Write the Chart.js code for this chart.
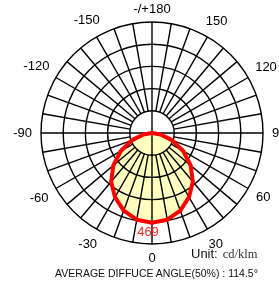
<!DOCTYPE html>
<html>
<head>
<meta charset="utf-8">
<script src="https://cdn.jsdelivr.net/npm/chart.js@4.4.1/dist/chart.umd.min.js"></script>
<style>
  html,body{margin:0;padding:0;background:#fff;}
  #wrap{position:relative;width:279px;height:285px;overflow:hidden;}
  #polar{position:absolute;left:0;top:0;}
  .unit{position:absolute;left:191px;top:246px;line-height:15px;font-size:13px;font-family:Arial,"Liberation Sans",sans-serif;color:#111;white-space:nowrap;}
  .unit span{font-size:12.5px;font-family:"Times New Roman","Liberation Serif",serif;color:#333;margin-left:5px;}
  .foot{position:absolute;left:0;top:267px;width:313px;text-align:center;line-height:12px;font-size:10.5px;font-family:Arial,"Liberation Sans",sans-serif;color:#111;white-space:nowrap;}
</style>
</head>
<body>
<div id="wrap">
  <canvas id="polar" width="279" height="285"></canvas>
  <div class="unit">Unit:<span>cd/klm</span></div>
  <div class="foot">AVERAGE DIFFUCE ANGLE(50%) : 114.5°</div>
</div>
<script>
// gamma angles, going clockwise from the bottom (0) through -90 (left) to 180 (top)
const angles = [0,-10,-20,-30,-40,-50,-60,-70,-80,-90,-100,-110,-120,-130,-140,-150,-160,-170,
                180,170,160,150,140,130,120,110,100,90,80,70,60,50,40,30,20,10];
// intensity in cd/klm
const intensity = [469,460,432,387,332,264,188,113,46,0,0,0,0,0,0,0,0,0,
                   0,0,0,0,0,0,0,0,0,0,46,113,188,264,332,387,432,460];
const rings = [116,232,348,464,580];
const tickAngles = [0,-30,-60,-90,-120,-150,180,150,120,90,60,30];
const tickText = ['0','-30','-60','-90','-120','-150','-/+180','150','120','90','60','30'];
const peakLabel = '469';

const FONT = '13px Arial, "Liberation Sans", sans-serif';

// grid goes between the yellow fill and the red line
const gridPlugin = {
  id: 'polarGrid',
  afterDatasetDraw(chart, args){
    if (args.index !== 0) return;
    const r = chart.scales.r, ctx = chart.ctx;
    ctx.save();
    ctx.strokeStyle = '#000';
    ctx.lineWidth = 1.4;
    rings.forEach(v=>{
      ctx.beginPath();
      ctx.arc(r.xCenter, r.yCenter, r.getDistanceFromCenterForValue(v), 0, Math.PI*2);
      ctx.stroke();
    });
    const inner = r.getDistanceFromCenterForValue(rings[0]);
    const outer = r.getDistanceFromCenterForValue(r.max);
    angles.forEach((a,i)=>{
      const p0 = r.getPointPosition(i, a % 90 === 0 ? 0 : inner);
      const p1 = r.getPointPosition(i, outer);
      ctx.beginPath();
      ctx.moveTo(p0.x, p0.y);
      ctx.lineTo(p1.x, p1.y);
      ctx.stroke();
    });
    ctx.restore();
  },
  afterDraw(chart){
    const r = chart.scales.r, ctx = chart.ctx;
    const outer = r.getDistanceFromCenterForValue(r.max);
    ctx.save();
    ctx.font = FONT;
    ctx.fillStyle = '#000';
    ctx.textAlign = 'center';
    ctx.textBaseline = 'middle';
    tickAngles.forEach((a,k)=>{
      const i = angles.indexOf(a);
      const ang = r.getPointPosition(i, 1).angle;
      const hw = ctx.measureText(tickText[k]).width/2;
      const d = outer + 9 + hw*Math.abs(Math.cos(ang)) + 4.5*Math.abs(Math.sin(ang));
      const p = r.getPointPosition(i, d);
      ctx.fillText(tickText[k], p.x, p.y + 0.5);
    });
    // peak value under the curve
    const pk = r.getPointPosition(0, r.getDistanceFromCenterForValue(intensity[0]) + 10);
    ctx.fillStyle = '#ff2a2a';
    ctx.fillText(peakLabel, pk.x - 4, pk.y);
    ctx.restore();
  }
};

new Chart(document.getElementById('polar'), {
  type: 'radar',
  data: {
    labels: angles,
    datasets: [
      { data: intensity, fill: 'origin', backgroundColor: '#ffffc0', borderWidth: 0, order: 2 },
      { data: intensity, fill: false, borderColor: '#ff0000', borderWidth: 4, borderJoinStyle: 'round', order: 1 }
    ]
  },
  options: {
    responsive: false,
    animation: false,
    devicePixelRatio: 1,
    layout: { padding: { left: 41, right: 16, top: 22, bottom: 41 } },
    elements: { point: { radius: 0, hoverRadius: 0 }, line: { tension: 0 } },
    plugins: { legend: { display: false }, tooltip: { enabled: false } },
    scales: {
      r: {
        min: 0, max: 580, startAngle: 180,
        ticks: { display: false, stepSize: 116 },
        grid: { display: false },
        angleLines: { display: false },
        pointLabels: { display: false }
      }
    }
  },
  plugins: [gridPlugin]
});
</script>
</body>
</html>
